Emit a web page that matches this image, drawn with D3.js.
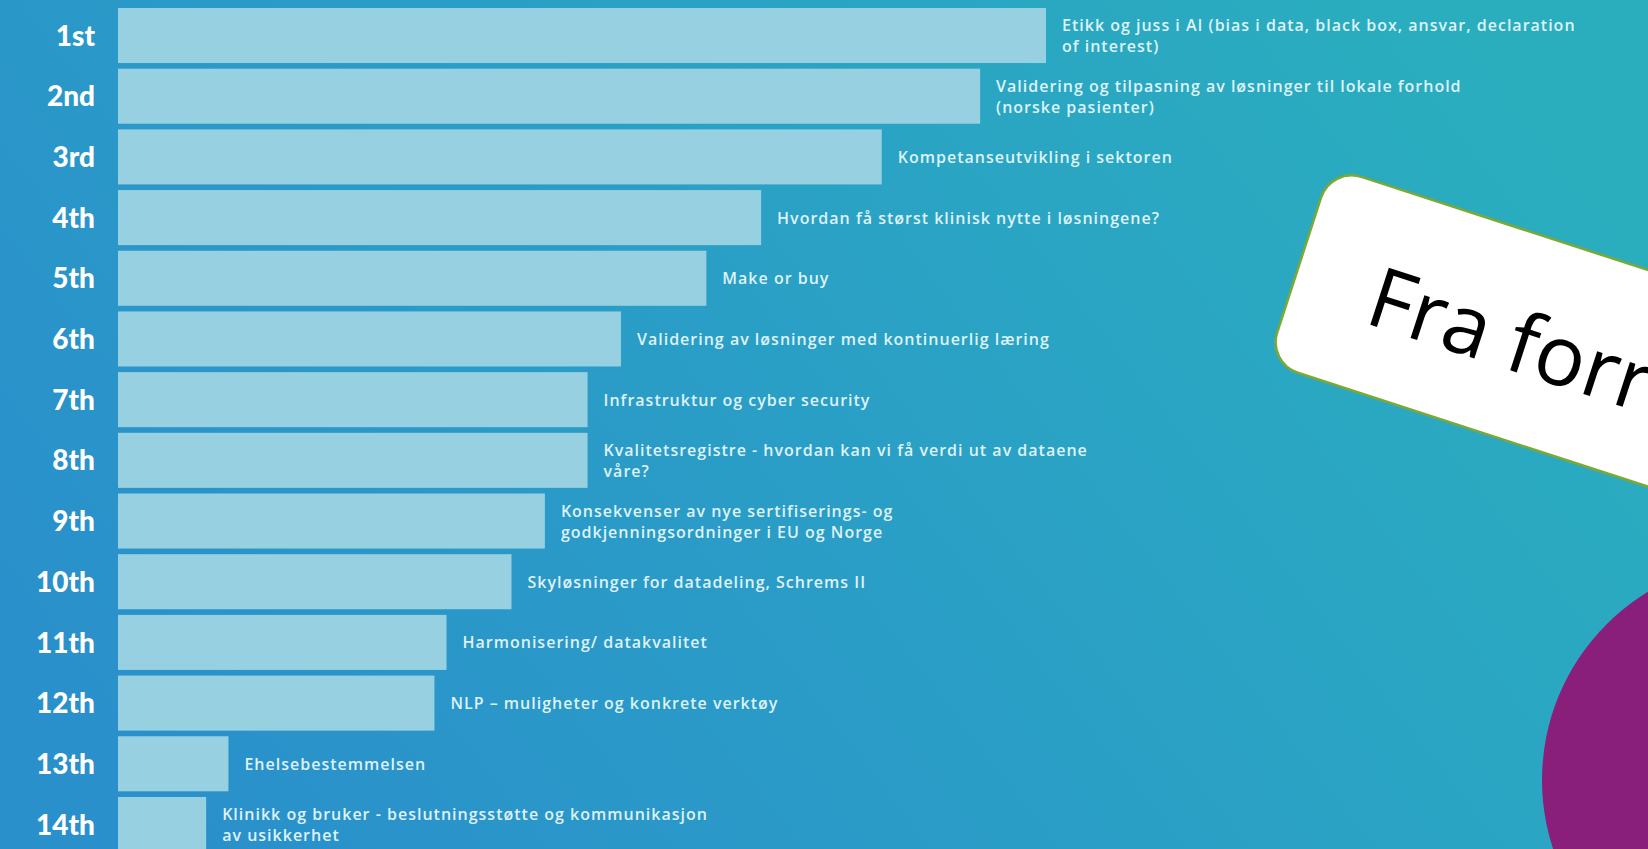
<!DOCTYPE html>
<html>
<head>
<meta charset="utf-8">
<script src="https://cdn.jsdelivr.net/npm/d3@7"></script>
<style>
  body { margin: 0; overflow: hidden; background: #2a9ac6; }
  .rank text { font-family: Lato, sans-serif; font-weight: 900; font-size: 28px; fill: #ffffff; }
  .topic { font-family: "Open Sans", sans-serif; font-weight: 600; font-size: 16px; letter-spacing: 1px; fill: #def2f8; }
</style>
</head>
<body>
<div id="chart"></div>
<script>
let W = 1648, H = 849;

// ranking result, scores relative to the winner
let ranks = ["1st", "2nd", "3rd", "4th", "5th", "6th", "7th", "8th", "9th", "10th", "11th", "12th", "13th", "14th"];
let topics = [
    ["Etikk og juss i AI (bias i data, black box, ansvar, declaration", "of interest)"],
    ["Validering og tilpasning av løsninger til lokale forhold", "(norske pasienter)"],
    ["Kompetanseutvikling i sektoren"],
    ["Hvordan få størst klinisk nytte i løsningene?"],
    ["Make or buy"],
    ["Validering av løsninger med kontinuerlig læring"],
    ["Infrastruktur og cyber security"],
    ["Kvalitetsregistre - hvordan kan vi få verdi ut av dataene", "våre?"],
    ["Konsekvenser av nye sertifiserings- og", "godkjenningsordninger i EU og Norge"],
    ["Skyløsninger for datadeling, Schrems II"],
    ["Harmonisering/ datakvalitet"],
    ["NLP – muligheter og konkrete verktøy"],
    ["Ehelsebestemmelsen"],
    ["Klinikk og bruker - beslutningsstøtte og kommunikasjon", "av usikkerhet"]
];
let scores = [100, 92.9, 82.3, 69.3, 63.4, 54.2, 50.6, 50.6, 46.0, 42.4, 35.4, 34.1, 11.9, 9.5];
let cardText = "Fra forrige";

let barLeft = 118;

let svg = d3.select("#chart").append("svg")
    .attr("width", W)
    .attr("height", H);

let defs = svg.append("defs");
let grad = defs.append("linearGradient")
    .attr("id", "bg")
    .attr("x1", 0).attr("y1", 0.7)
    .attr("x2", 1).attr("y2", 0.3);
grad.append("stop").attr("offset", "0%").attr("stop-color", "#2a90cb");
grad.append("stop").attr("offset", "50%").attr("stop-color", "#2a9fc6");
grad.append("stop").attr("offset", "100%").attr("stop-color", "#2aaebe");

svg.append("rect")
    .attr("width", W).attr("height", H)
    .attr("fill", "url(#bg)");

let x = d3.scaleLinear()
    .domain([0, 100])
    .range([barLeft, 1046]);

let y = d3.scaleBand()
    .domain(ranks)
    .range([8, 852])
    .paddingInner(0.093);

let data = ranks.map(function (r, i) {
    return { rank: r, lines: topics[i], score: scores[i] };
});

// bars
svg.selectAll(".bar")
    .data(data)
    .enter().append("rect")
    .attr("class", "bar")
    .attr("x", x(0))
    .attr("y", function (d) { return y(d.rank); })
    .attr("width", function (d) { return x(d.score) - x(0); })
    .attr("height", y.bandwidth())
    .attr("fill", "#96d0e1");

// rank labels on the left
let axis = svg.append("g")
    .attr("class", "rank")
    .attr("transform", "translate(95,0)")
    .call(d3.axisLeft(y).tickSize(0).tickPadding(0));
axis.select(".domain").remove();
axis.selectAll("text").attr("dy", "0.36em");

// topic labels right of each bar
let lineH = 21;
let labels = svg.selectAll(".topic")
    .data(data)
    .enter().append("text")
    .attr("class", "topic")
    .attr("y", function (d) { return y(d.rank) + y.bandwidth() / 2; });

labels.selectAll("tspan")
    .data(function (d) {
        return d.lines.map(function (l, i) { return { text: l, i: i, n: d.lines.length, x: x(d.score) + 16 }; });
    })
    .enter().append("tspan")
    .attr("x", function (d) { return d.x; })
    .attr("dy", function (d) {
        if (d.i === 0) return (-(d.n - 1) / 2 * lineH + 6) + "px";
        return lineH + "px";
    })
    .text(function (d) { return d.text; });

// purple circle, bottom right
svg.append("circle")
    .attr("cx", 1762)
    .attr("cy", 780)
    .attr("r", 220)
    .attr("fill", "#8a1f7b");

// tilted white note
let card = svg.append("g")
    .attr("transform", "translate(1331,167) rotate(18)");
card.append("rect")
    .attr("width", 700)
    .attr("height", 206)
    .attr("rx", 32)
    .attr("fill", "#ffffff")
    .attr("stroke", "#7ca836")
    .attr("stroke-width", 2.5);
card.append("text")
    .attr("x", 78)
    .attr("y", 138)
    .style("font-family", "'Open Sans', sans-serif")
    .style("font-size", "84px")
    .style("fill", "#000")
    .text(cardText);
</script>
</body>
</html>
